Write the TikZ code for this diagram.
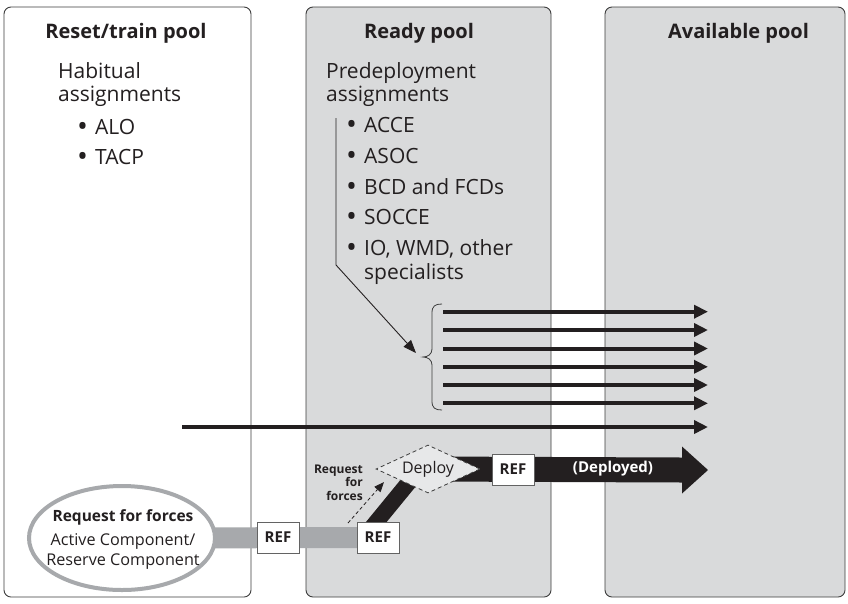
\documentclass[tikz,border=0pt]{standalone}
\usepackage{fontspec}
\setmainfont{Open Sans}
\usetikzlibrary{arrows.meta,shapes.geometric,calc,backgrounds}
\definecolor{panelgray}{HTML}{D9DADB}
\definecolor{diagray}{HTML}{E7E8E9}
\definecolor{bargray}{HTML}{A7A9AC}
\definecolor{edge}{HTML}{3C3C3C}
\definecolor{ink}{HTML}{231F20}
\newcommand{\bitem}[1]{\makebox[18pt][l]{\raisebox{-2.6pt}{\fontsize{29}{24}\selectfont\textbullet}}#1}
\begin{document}
\begin{tikzpicture}[x=1pt,y=-1pt,
  panel/.style={draw=edge, line width=0.9pt, rounded corners=7pt},
  title/.style={font=\bfseries\fontsize{20}{24}\selectfont, anchor=base, text=ink, inner sep=0},
  body/.style={font=\fontsize{21}{24}\selectfont, anchor=base west, text=ink, inner sep=0},
  elltext/.style={anchor=base, text=ink, inner sep=0},
  refbox/.style={draw=edge!80, line width=0.8pt, fill=white, font=\bfseries\fontsize{15}{18}\selectfont, minimum width=42pt, minimum height=31pt, inner sep=0, text=ink},
  flow/.style={line width=4pt, draw=ink, -{Triangle[length=14pt,width=13pt]}},
  thin/.style={line width=0.9pt, draw=ink},
  small/.style={font=\bfseries\fontsize{12}{13}\selectfont, anchor=base east, inner sep=0, text=ink},
]
\useasboundingbox (0,0) rectangle (848,603);

% panels
\begin{scope}[on background layer]
  \draw[panel, fill=white] (4,7) rectangle (251,597);
  \draw[panel, fill=panelgray] (306,7) rectangle (551,597);
  \draw[panel, fill=panelgray] (605,7) rectangle (845,597);
\end{scope}

% titles
\node[title] (t1) at (126,38.5) {Reset/train pool};
\node[title] (t2) at (419,38.5) {Ready pool};
\node[title] (t3) at (738.5,38.5) {Available pool};

% left panel text
\node[body] (hab1) at (58,78) {Habitual};
\node[body] (hab2) at (58,101.5) {assignments};
\node[body] (alo) at (77,134) {\bitem{ALO}};
\node[body] (tacp) at (77,164) {\bitem{TACP}};

% middle panel text
\node[body] (pre1) at (326,78) {Predeployment};
\node[body] (pre2) at (326,101.5) {assignments};
\node[body] (b1) at (346,132) {\bitem{ACCE}};
\node[body] (b2) at (346,163) {\bitem{ASOC}};
\node[body] (b3) at (346,194) {\bitem{BCD and FCDs}};
\node[body] (b4) at (346,224) {\bitem{SOCCE}};
\node[body] (b5) at (346,255) {\bitem{IO, WMD, other}};
\node[body] (b6) at (364,279) {specialists};

% bracket line to brace
\coordinate (lt) at (336,118);
\coordinate (lb) at (336,265);
\coordinate (lh) at (416,353);
\draw[thin, -{Triangle[length=13pt,width=10pt]}] (lt) -- (lb) -- (lh);

% brace
\draw[line width=0.8pt, draw=edge] (442,304) .. controls (435,304) and (432,306) .. (432,313) -- (432,349)
  .. controls (432,354) and (428,357) .. (423,357) .. controls (428,357) and (432,360) .. (432,365)
  -- (432,401) .. controls (432,408) and (435,410) .. (442,410);

% six flow arrows
\foreach \i/\yy in {1/311.7,2/330,3/348.5,4/366.8,5/385,6/403.3} {
  \coordinate (s\i) at (443,\yy);
  \coordinate (e\i) at (708,\yy);
  \draw[flow] (s\i) -- (e\i);
}
% long arrow
\coordinate (ls) at (182,427);
\coordinate (le) at (708,427);
\draw[flow] (ls) -- (le);

% nodes of bottom flow
\node[ellipse, draw=bargray, line width=4pt, fill=white, minimum width=186pt, minimum height=104pt, inner sep=0] (rff) at (122,538) {};
\node[elltext, font=\bfseries\fontsize{15.5}{18}\selectfont] (rffa) at (123,521.7) {Request for forces};
\node[elltext, font=\fontsize{16.2}{18}\selectfont] (rffb) at (123,545) {Active Component/};
\node[elltext, font=\fontsize{16.2}{18}\selectfont] (rffc) at (123,565) {Reserve Component};
\node[refbox] (ref1) at (278,537.5) {REF};
\node[refbox] (ref2) at (378,537.5) {REF};
\node[diamond, draw=edge, line width=0.8pt, dash pattern=on 4pt off 3pt, fill=diagray, minimum width=104pt, minimum height=48pt, aspect=2.17, inner sep=0, font=\fontsize{16}{18}\selectfont, text=ink]
  (dep) at (428,469) {Deploy};
\node[refbox] (ref3) at (513,469.5) {REF};
\coordinate (dtip) at (708,470);
\node[font=\bfseries\fontsize{15}{18}\selectfont, text=white, inner sep=0] (dlab) at (613,469) {(Deployed)};

\begin{scope}[on background layer]
  \draw[bargray, line width=21pt] (rff.center) -- (ref2.center);
  \coordinate (bandA) at (364,537);
  \coordinate (bandB) at (423,465);
  \draw[ink, line width=16pt] (bandA) -- (bandB);
  \fill[ink] ($(dep.center)+(0,-12.5)$) -- ($(dtip)+(-26,-12.5)$) -- ($(dtip)+(-26,-23.5)$) -- (dtip)
    -- ($(dtip)+(-26,23.5)$) -- ($(dtip)+(-26,12.5)$) -- ($(dep.center)+(0,12.5)$) -- cycle;
\end{scope}

% request for forces (dashed)
\coordinate (rq1) at (348,523);
\coordinate (rq2) at (384,482);
\draw[ink, line width=0.8pt, dash pattern=on 3.5pt off 2.5pt, -{Triangle[length=10pt,width=8pt]}] (rq1) -- (rq2);
\node[small] (rql1) at (363,473.5) {Request};
\node[small] (rql2) at (363,486.5) {for};
\node[small] (rql3) at (363,500) {forces};
\end{tikzpicture}
\end{document}
